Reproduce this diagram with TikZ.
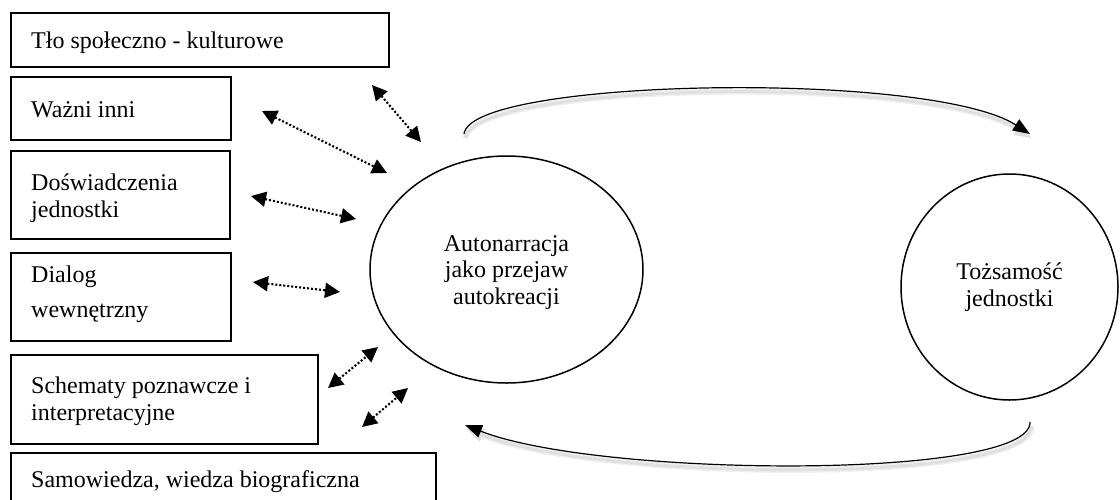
\documentclass[tikz,border=0pt]{standalone}
\usepackage{fontspec}
\setmainfont{Liberation Serif}
\usetikzlibrary{arrows.meta,shapes.geometric}
\begin{document}
\begin{tikzpicture}[x=1pt,y=-1pt,
  every node/.style={font=\fontsize{24}{26.5}\selectfont},
  frame/.style={draw, line width=1.6pt, rectangle, inner sep=0pt, anchor=north west},
  txt/.style={anchor=base west, inner sep=0pt},
  oval/.style={ellipse, draw, line width=1.5pt, inner sep=0pt, align=center},
  link/.style={line width=2.1pt, dash pattern=on 2pt off 2pt,
    {Triangle[length=15pt,width=15pt]}-{Triangle[length=15pt,width=15pt]}},
  flow/.style={line width=1.2pt, -{Triangle[length=17pt,width=13pt]},
    preaction={draw=black!6, line width=6pt,
      transform canvas={xshift=1.5pt, yshift=-4pt}},
    preaction={draw=black!12, line width=3pt,
      transform canvas={xshift=1.5pt, yshift=-4pt}}}]
\clip (0,0) rectangle (1120,499);

% influence boxes on the left
\node[frame, minimum width=378pt, minimum height=54pt] (b1) at (10,12) {};
\node[frame, minimum width=220pt, minimum height=63pt] (b2) at (10,76) {};
\node[frame, minimum width=219pt, minimum height=88pt] (b3) at (10,150) {};
\node[frame, minimum width=220pt, minimum height=88pt] (b4) at (10,252) {};
\node[frame, minimum width=307pt, minimum height=89pt] (b5) at (10,354) {};
\node[frame, minimum width=425pt, minimum height=54pt] (b6) at (10,452) {};

\node[txt] (t1) at (31,48) {Tło społeczno - kulturowe};
\node[txt] (t2) at (31,117) {Ważni inni};
\node[txt] (t3a) at (31,190) {Doświadczenia};
\node[txt] (t3b) at (31,217) {jednostki};
\node[txt] (t4a) at (31,282) {Dialog};
\node[txt] (t4b) at (31,317) {wewnętrzny};
\node[txt] (t5a) at (31,393) {Schematy poznawcze i};
\node[txt] (t5b) at (31,420) {interpretacyjne};
\node[txt] (t6) at (31,487) {Samowiedza, wiedza biograficzna};

% central ellipse and identity circle
\node[oval, minimum width=273pt, minimum height=227pt] (auto) at (506.5,269.5)
  {\rule{0pt}{22pt}Autonarracja\\jako przejaw\\autokreacji};
\node[oval, minimum width=217pt, minimum height=226pt] (toz) at (1009.5,287)
  {Tożsamość\\jednostki};

% two-way dotted links
\coordinate (a1s) at (372,85);  \coordinate (a1e) at (421,142);
\coordinate (a2s) at (262,111); \coordinate (a2e) at (387,173);
\coordinate (a3s) at (251,196); \coordinate (a3e) at (356,219);
\coordinate (a4s) at (253,282); \coordinate (a4e) at (340,292);
\coordinate (a5s) at (328,388); \coordinate (a5e) at (378,347);
\coordinate (a6s) at (362,427); \coordinate (a6e) at (408,388);
\draw[link] (a1s) -- (a1e);
\draw[link] (a2s) -- (a2e);
\draw[link] (a3s) -- (a3e);
\draw[link] (a4s) -- (a4e);
\draw[link] (a5s) -- (a5e);
\draw[link] (a6s) -- (a6e);

% feedback loop between the two
\coordinate (ts) at (464,134); \coordinate (te) at (1030,134);
\coordinate (bs) at (1030,422); \coordinate (be) at (465,425);
\draw[flow] (ts) .. controls (470,78) and (930,70) .. (te);
\draw[flow] (bs) .. controls (1032,480) and (600,478) .. (be);
\end{tikzpicture}
\end{document}
